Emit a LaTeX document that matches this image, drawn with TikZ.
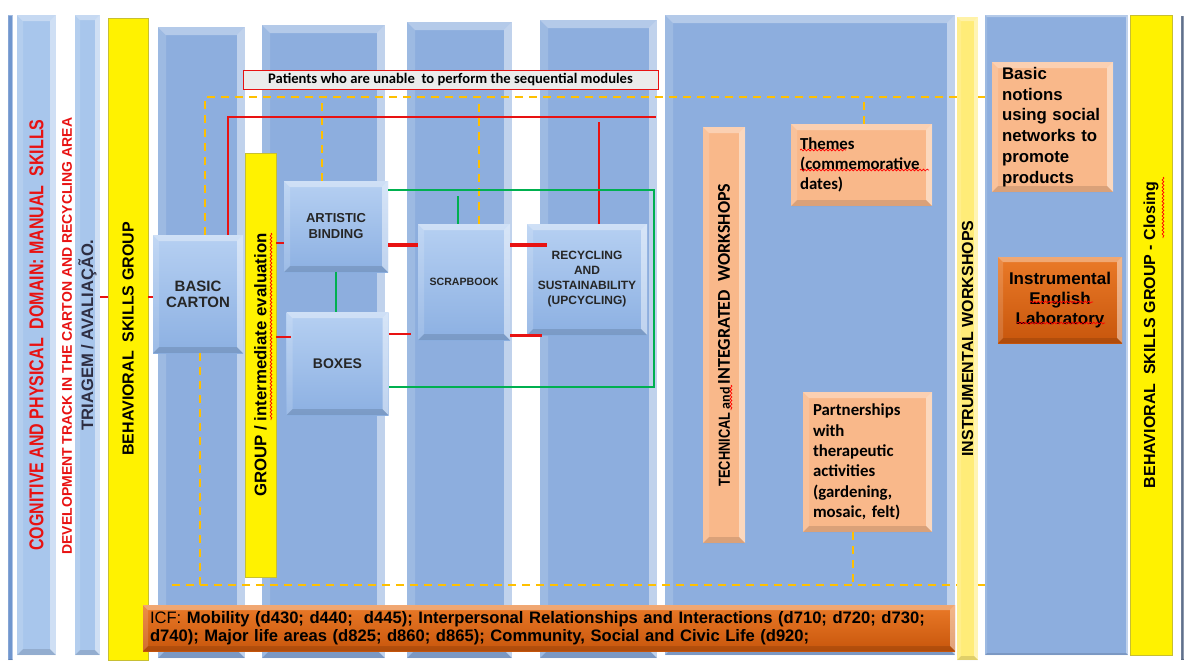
\documentclass[tikz,border=0pt]{standalone}
\usepackage{fontspec}
\setmainfont{Liberation Sans}
\newfontfamily\narrowfont{Liberation Sans}[FakeStretch=0.8]
\newfontfamily\calfont{Carlito}
\usetikzlibrary{decorations.pathmorphing}

\definecolor{colblue}{RGB}{141,174,222}
\definecolor{paleblue}{RGB}{168,198,236}
\definecolor{edgeblue}{RGB}{112,150,206}
\definecolor{edgegray}{RGB}{96,112,140}
\definecolor{boxtop}{RGB}{182,208,242}
\definecolor{boxbot}{RGB}{140,176,226}
\definecolor{peach}{RGB}{249,184,138}
\definecolor{rustTop}{RGB}{234,122,40}
\definecolor{rustBot}{RGB}{200,86,12}
\definecolor{lineRed}{RGB}{232,18,18}
\definecolor{lineGreen}{RGB}{0,176,80}
\definecolor{gold}{RGB}{255,192,0}
\definecolor{paleyellow}{RGB}{255,236,120}
\definecolor{textgray}{RGB}{45,45,65}

\newcommand{\fsz}[2]{\fontsize{#1}{#2}\selectfont}

\begin{document}
\begin{tikzpicture}[x=0.5pt,y=-0.5pt,
    bevel/.style={path picture={
      \path (path picture bounding box.south west) coordinate (bsw)
            (path picture bounding box.south east) coordinate (bse)
            (path picture bounding box.north east) coordinate (bne)
            (path picture bounding box.north west) coordinate (bnw);
      \fill[white,opacity=.35] (bnw) -- (bne) -- ([shift={(-#1,-#1)}]bne) -- ([shift={(#1,-#1)}]bnw) -- cycle;
      \fill[white,opacity=.45] (bne) -- (bse) -- ([shift={(-#1,#1)}]bse) -- ([shift={(-#1,-#1)}]bne) -- cycle;
      \fill[white,opacity=.15] (bnw) -- (bsw) -- ([shift={(#1,#1)}]bsw) -- ([shift={(#1,-#1)}]bnw) -- cycle;
      \fill[black,opacity=.12] (bsw) -- (bse) -- ([shift={(-#1,#1)}]bse) -- ([shift={(#1,#1)}]bsw) -- cycle;}},
    bevel/.default=3pt,
    colbar/.style={inner sep=0pt, fill=colblue, bevel=4pt},
    ybar/.style={inner sep=0pt, fill=yellow, draw=yellow!75!black, line width=0.3pt},
    block/.style={inner sep=0pt, top color=boxtop, bottom color=boxbot, bevel, align=center, text=black!85},
    peachbox/.style={inner sep=0pt, fill=peach, bevel, font=\calfont\bfseries},
    rustbox/.style={inner sep=0pt, top color=rustTop, bottom color=rustBot, bevel=2.5pt},
    redln/.style={draw=lineRed, line width=1.2pt},
    grnln/.style={draw=lineGreen, line width=1pt},
    dashln/.style={draw=gold, line width=1pt, dash pattern=on 4pt off 3pt},
    squig/.style={draw=red, line width=0.35pt, decorate,
                  decoration={snake, amplitude=0.45pt, segment length=1.8pt}}]

  \useasboundingbox (0,0) rectangle (1186,665);
  \fill[white] (0,0) rectangle (1186,665);

  % outer columns
  \node[colbar, fill=edgeblue, bevel=0.4pt, minimum width=2.5pt, minimum height=322.5pt] (leftedge) at (10.5,337.5) {};
  \node[colbar, fill=paleblue, bevel=3pt, minimum width=19.5pt, minimum height=320pt,
        text=lineRed, font=\narrowfont\bfseries\fsz{10}{11}] (cognitive) at (36.5,335)
        {\rotatebox{90}{COGNITIVE AND PHYSICAL\ \ DOMAIN: MANUAL\ \ SKILLS}};
  \node[text=lineRed, font=\bfseries\fsz{7}{8}] (devtrack) at (67,336)
        {\rotatebox{90}{DEVELOPMENT TRACK IN THE CARTON AND RECYCLING AREA}};
  \node[colbar, fill=paleblue, bevel=2.5pt, minimum width=12.5pt, minimum height=320pt,
        text=textgray, font=\bfseries\fsz{8.3}{9}] (triagem) at (87.5,335)
        {\rotatebox{90}{TRIAGEM / AVALIAÇÃO.}};
  \node[ybar, minimum width=20pt, minimum height=321pt, font=\bfseries\fsz{8}{9}] (behav) at (128,339)
        {\rotatebox{90}{BEHAVIORAL\ \ SKILLS GROUP}};

  % module columns
  \node[colbar, minimum width=43.5pt, minimum height=315.5pt] (colA) at (201.5,342.5) {};
  \node[colbar, minimum width=61.5pt, minimum height=316.5pt] (colB) at (323.5,341.5) {};
  \node[colbar, minimum width=52.5pt, minimum height=318pt] (colC) at (459.5,340) {};
  \node[colbar, minimum width=58.5pt, minimum height=319pt] (colD) at (598.5,339) {};
  \node[colbar, minimum width=145pt, minimum height=320pt] (colE) at (810,335) {};
  \node[colbar, fill=paleyellow, bevel=2pt, minimum width=10.5pt, minimum height=321.5pt,
        font=\bfseries\fsz{8}{9}] (instrws) at (967.5,338.5)
        {\rotatebox{90}{INSTRUMENTAL WORKSHOPS}};
  \node[colbar, bevel=1pt, minimum width=71.5pt, minimum height=320pt] (colF) at (1056.5,335) {};
  \node[ybar, minimum width=21pt, minimum height=320pt, font=\bfseries\fsz{8}{9}] (closing) at (1151,335)
        {\rotatebox{90}{BEHAVIORAL\ \ SKILLS GROUP - Closing}};
  \node[colbar, fill=edgegray, bevel=0.3pt, minimum width=1.5pt, minimum height=322pt] (rightedge) at (1182.5,337.5) {};

  % modules
  \node[block, minimum width=45pt, minimum height=59pt, font=\bfseries\fsz{7.5}{8}] (carton) at (198,294) {BASIC\\CARTON};
  \node[ybar, minimum width=15.5pt, minimum height=212pt, font=\bfseries\fsz{8.4}{9}] (group) at (260.5,365)
        {\rotatebox{90}{GROUP / intermediate evaluation}};
  \node[block, minimum width=52pt, minimum height=45.5pt, font=\bfseries\fsz{6.5}{8}] (artistic) at (336,226.5) {ARTISTIC\\BINDING};
  \node[block, minimum width=51pt, minimum height=51.5pt, font=\bfseries\fsz{7}{8}] (boxes) at (337.5,363.5) {BOXES};
  \node[block, minimum width=46pt, minimum height=58pt, font=\bfseries\fsz{5.3}{6}] (scrap) at (464,282) {SCRAPBOOK};
  \node[block, minimum width=60pt, minimum height=55.5pt, font=\bfseries\fsz{6}{7.5}] (recyc) at (587,279.5)
        {RECYCLING\\AND\\SUSTAINABILITY\\(UPCYCLING)};
  \node[inner sep=0pt, fill=black!8, draw=lineRed, line width=0.5pt, minimum width=207.5pt, minimum height=9.5pt,
        font=\calfont\bfseries\fsz{7.3}{8}] (patients) at (450.5,79.5)
        {Patients who are unable\ \ to perform the sequential modules};

  % workshops
  \node[peachbox, minimum width=21pt, minimum height=208pt] (techws) at (724,335)
        {\rotatebox{90}{\narrowfont\fsz{8}{9}TECHNICAL\calfont\fsz{7}{8} and \fsz{9}{10}INTEGRATED\ \ WORKSHOPS}};
  \node[peachbox, minimum width=70.5pt, minimum height=41pt, inner xsep=4.5pt, text width=61.5pt,
        align=left, font=\calfont\bfseries\fsz{8.4}{10}] (themes) at (861.5,165)
        {Themes\\(commemorative\\dates)};
  \node[peachbox, minimum width=64.5pt, minimum height=70pt, inner xsep=5pt, text width=54.5pt,
        align=left, font=\calfont\bfseries\fsz{8.4}{10.2}] (partner) at (867.5,462)
        {Partnerships\\with\\therapeutic\\activities\\(gardening,\\mosaic, felt)};
  \node[peachbox, minimum width=60.5pt, minimum height=65pt, inner xsep=5pt, text width=50.5pt,
        align=left, font=\bfseries\fsz{8.4}{10.4}] (social) at (1052.5,127)
        {Basic\\notions\\using social\\networks to\\promote\\products};
  \node[rustbox, minimum width=62pt, minimum height=43pt, align=center, font=\bfseries\fsz{8.5}{10}] (english) at (1060,300)
        {Instrumental\\English\\Laboratory};
  \node[rustbox, minimum width=406pt, minimum height=23pt, inner xsep=3.5pt, text width=399pt,
        align=left, font=\fsz{8.3}{9.2}] (icf) at (549,628)
        {ICF: \textbf{Mobility (d430; d440;\ \ d445); Interpersonal Relationships and Interactions (d710; d720; d730;}\\
         \textbf{d740); Major life areas (d825; d860; d865); Community, Social and Civic Life (d920;}};

  % dashed rails
  \coordinate (railT) at (0,97);
  \coordinate (railB) at (0,585);
  \draw[dashln] (carton.north -| 205,0) |- (instrws.west |- railT);
  \draw[dashln] (instrws.east |- railT) -- (colF.west |- railT);
  \draw[dashln] (artistic.north -| 322,0) -- (322,0 |- railT);
  \draw[dashln] (scrap.north -| 479,0) -- (479,0 |- railT);
  \draw[dashln] (themes.north -| 864,0) -- (864,0 |- railT);
  \draw[dashln] (carton.south -| 200,0) -- (200,0 |- railB);
  \draw[dashln] (172,0 |- railB) -- (instrws.west |- railB);
  \draw[dashln] (instrws.east |- railB) -- (colF.west |- railB);
  \draw[dashln] (partner.south -| 853,0) -- (853,0 |- railB);

  % red paths
  \coordinate (redT) at (656,117);
  \draw[redln] (carton.north -| 228,0) |- (redT);
  \draw[redln] (recyc.north -| 599,0) -- (599,122);
  \draw[redln] (triagem.east |- 0,297) -- (behav.west |- 0,297);
  \draw[redln] (behav.east |- 0,297) -- (carton.west |- 0,297);
  \draw[redln] (group.east |- 0,243) -- (artistic.west |- 0,243);
  \draw[redln] (group.east |- 0,337) -- (291,337);
  \draw[redln, line width=1.8pt] (artistic.east |- 0,245) -- (scrap.west |- 0,245);
  \draw[redln, line width=1.8pt] (scrap.east |- 0,245) -- (547,245);
  \draw[redln] (boxes.east |- 0,334) -- (411,334);
  \draw[redln, line width=1.5pt] (scrap.east |- 0,335) -- (542,335);

  % green paths
  \coordinate (gtop) at (654,190);
  \coordinate (gbot) at (654,387);
  \draw[grnln] (artistic.east |- gtop) -- (gtop) -- (gbot) -- (boxes.east |- gbot);
  \draw[grnln] (artistic.south) -- (artistic.south |- boxes.north);
  \draw[grnln] (scrap.north -| 458,0) -- (458,196);

  % spelling marks
  \draw[squig] (800,150) -- (846,150);
  \draw[squig] (800,170) -- (929,170);
  \draw[squig] (731,385) -- (731,410);
  \draw[squig] (271,233) -- (271,420);
  \draw[squig] (1163,177) -- (1163,238);
  \draw[squig] (1030,302) -- (1093,302);
  \draw[squig] (1017,323) -- (1105,323);
\end{tikzpicture}
\end{document}
